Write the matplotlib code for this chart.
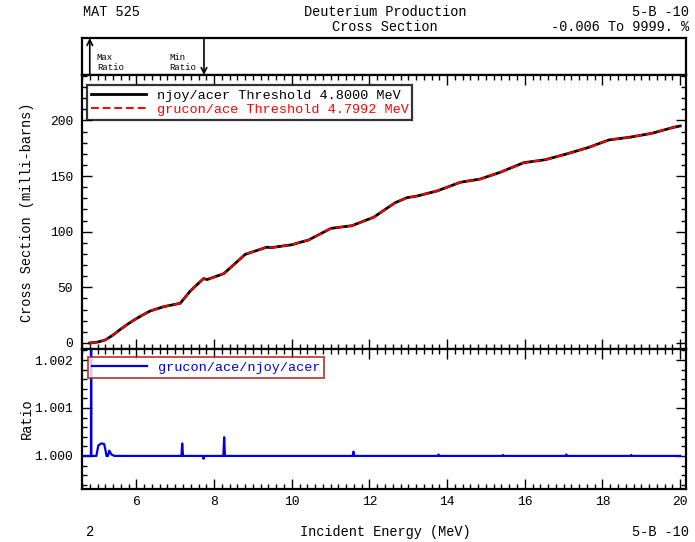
import matplotlib
matplotlib.use("Agg")
import matplotlib.pyplot as plt
from matplotlib.ticker import MultipleLocator, FormatStrFormatter

plt.rcParams['font.family'] = ['Liberation Mono', 'DejaVu Sans Mono']

# Cross section data (MeV, milli-barns)
energy = [4.80, 5.00, 5.20, 5.40, 5.59, 5.78, 5.97, 6.17, 6.36, 6.70, 7.13, 7.39, 7.73,
          7.82, 8.25, 8.80, 9.36, 9.45, 10.01, 10.22, 10.43, 11.01, 11.55, 12.11, 12.66,
          12.96, 13.22, 13.74, 14.34, 14.85, 15.37, 15.97, 16.53, 17.09, 17.65, 18.16,
          18.72, 19.27, 19.83, 20.00]
xs_njoy = [0.0, 0.8, 2.7, 7.2, 12.3, 17.0, 21.3, 25.3, 28.8, 32.6, 35.7, 46.8, 57.9,
           57.0, 62.3, 79.6, 86.1, 85.6, 88.3, 90.5, 92.5, 103.0, 105.4, 113.0, 126.0,
           130.5, 132.0, 136.6, 144.4, 147.3, 153.4, 162.0, 164.7, 170.0, 175.8, 182.4,
           185.0, 188.4, 193.8, 195.0]
xs_grucon = list(xs_njoy)

# Ratio data
ratio_energy = [4.60, 4.83, 4.835, 4.84, 4.97, 5.02, 5.10, 5.17, 5.21, 5.23, 5.27, 5.30,
                5.36, 5.43, 7.16, 7.18, 7.20, 7.71, 7.73, 7.75, 8.24, 8.26, 8.28, 11.57,
                11.59, 11.61, 13.76, 13.78, 13.80, 15.42, 15.44, 15.46, 17.05, 17.07, 17.09,
                18.72, 18.74, 18.76, 20.00]
ratio_vals = [1.0, 1.0, 1.0030, 1.0, 1.0, 1.00022, 1.00026, 1.00025, 1.0001, 1.0, 1.0,
              1.00011, 1.00003, 1.0, 1.0, 1.00026, 1.0, 1.0, 0.99994, 1.0, 1.0, 1.00039,
              1.0, 1.0, 1.00009, 1.0, 1.0, 1.00003, 1.0, 1.0, 1.00002, 1.0, 1.0, 1.00003,
              1.0, 1.0, 1.00002, 1.0, 1.0]

max_ratio_E = 4.80
min_ratio_E = 7.74

W, H = 695, 542
fig = plt.figure(figsize=(W / 100, H / 100), dpi=100)

def ax_rect(x0, y0, x1, y1):
    return [x0 / W, 1 - y1 / H, (x1 - x0) / W, (y1 - y0) / H]

xmin, xmax = 4.60, 20.15
ax_top = fig.add_axes(ax_rect(82, 38, 686, 75))
ax_main = fig.add_axes(ax_rect(82, 75, 686, 349))
ax_rat = fig.add_axes(ax_rect(82, 349, 686, 489))

for ax in (ax_top, ax_main, ax_rat):
    ax.set_xlim(xmin, xmax)
    for s in ax.spines.values():
        s.set_linewidth(1.6)
        s.set_color('black')

# top panel
ax_top.set_ylim(0, 1)
ax_top.set_xticks([])
ax_top.set_yticks([])
ax_top.annotate('', xy=(max_ratio_E, 1.0), xytext=(max_ratio_E, 0.0),
                arrowprops=dict(arrowstyle='->', lw=1.2, color='black', shrinkA=0, shrinkB=0))
ax_top.annotate('', xy=(min_ratio_E, 0.0), xytext=(min_ratio_E, 1.0),
                arrowprops=dict(arrowstyle='->', lw=1.2, color='black', shrinkA=0, shrinkB=0))
ax_top.text(max_ratio_E + 0.18, 0.08, 'Max\nRatio', fontsize=6.5, va='bottom', ha='left',
            linespacing=1.1)
ax_top.text(min_ratio_E - 0.9, 0.08, 'Min\nRatio', fontsize=6.5, va='bottom', ha='left',
            linespacing=1.1)

# main panel
ax_main.plot(energy, xs_njoy, color='black', lw=2.0, label='njoy/acer Threshold 4.8000 MeV')
ax_main.plot(energy, xs_grucon, color='red', lw=1.4, ls=(0, (4, 2)),
             label='grucon/ace Threshold 4.7992 MeV')
ax_main.set_ylim(-5.4, 240.8)
ax_main.yaxis.set_major_locator(MultipleLocator(50))
ax_main.yaxis.set_minor_locator(MultipleLocator(10))
ax_main.xaxis.set_major_locator(MultipleLocator(2))
ax_main.xaxis.set_minor_locator(MultipleLocator(0.2))
ax_main.tick_params(axis='x', labelbottom=False)
ax_main.set_ylabel('Cross Section (milli-barns)', fontsize=9.8)
ax_main.yaxis.set_label_coords(-0.080, 0.5)
leg = ax_main.legend(loc='upper left', bbox_to_anchor=(0.003, 0.972), fontsize=9.7,
                     frameon=True, fancybox=False, handlelength=4.1, borderpad=0.3,
                     labelspacing=0.1, handletextpad=0.8, borderaxespad=0.2)
leg.get_frame().set_edgecolor('black')
leg.get_frame().set_linewidth(1.6)
leg.get_texts()[1].set_color('red')

# ratio panel
ax_rat.plot(ratio_energy, ratio_vals, color='#0000dd', lw=1.6,
            label='grucon/ace/njoy/acer')
ax_rat.set_ylim(0.99931, 1.00223)
ax_rat.yaxis.set_major_locator(MultipleLocator(0.001))
ax_rat.yaxis.set_minor_locator(MultipleLocator(0.0002))
ax_rat.yaxis.set_major_formatter(FormatStrFormatter('%.3f'))
ax_rat.xaxis.set_major_locator(MultipleLocator(2))
ax_rat.xaxis.set_minor_locator(MultipleLocator(0.2))
ax_rat.set_ylabel('Ratio', fontsize=9.8)
ax_rat.yaxis.set_label_coords(-0.080, 0.5)
leg2 = ax_rat.legend(loc='upper left', bbox_to_anchor=(0.005, 0.96), fontsize=9.7,
                     frameon=True, fancybox=False, handlelength=4.1, borderpad=0.3,
                     handletextpad=0.8, borderaxespad=0.2)
leg2.get_frame().set_edgecolor('#b22222')
leg2.get_frame().set_linewidth(1.4)
leg2.get_texts()[0].set_color('#0000dd')

for ax in (ax_main, ax_rat):
    ax.tick_params(which='both', direction='in', top=True, right=True, labelsize=9.4,
                   width=1.0, colors='black')
    ax.tick_params(which='major', length=7)
    ax.tick_params(which='minor', length=3.5)
    ax.tick_params(axis='y', pad=6.5)
ax_rat.tick_params(axis='x', pad=5)

# header and footer texts
fs = 9.8
fig.text(83 / W, 1 - 12 / H, 'MAT 525', fontsize=fs, ha='left', va='center')
fig.text(385 / W, 1 - 12 / H, 'Deuterium Production', fontsize=fs, ha='center', va='center')
fig.text(385 / W, 1 - 27 / H, 'Cross Section', fontsize=fs, ha='center', va='center')
fig.text(689 / W, 1 - 12 / H, '5-B -10', fontsize=fs, ha='right', va='center')
fig.text(689 / W, 1 - 27 / H, '-0.006 To 9999. %', fontsize=fs, ha='right', va='center')
fig.text(86 / W, 1 - 532 / H, '2', fontsize=fs, ha='left', va='center')
fig.text(385 / W, 1 - 532 / H, 'Incident Energy (MeV)', fontsize=fs, ha='center', va='center')
fig.text(689 / W, 1 - 532 / H, '5-B -10', fontsize=fs, ha='right', va='center')

fig.savefig('out.png', dpi=100)
